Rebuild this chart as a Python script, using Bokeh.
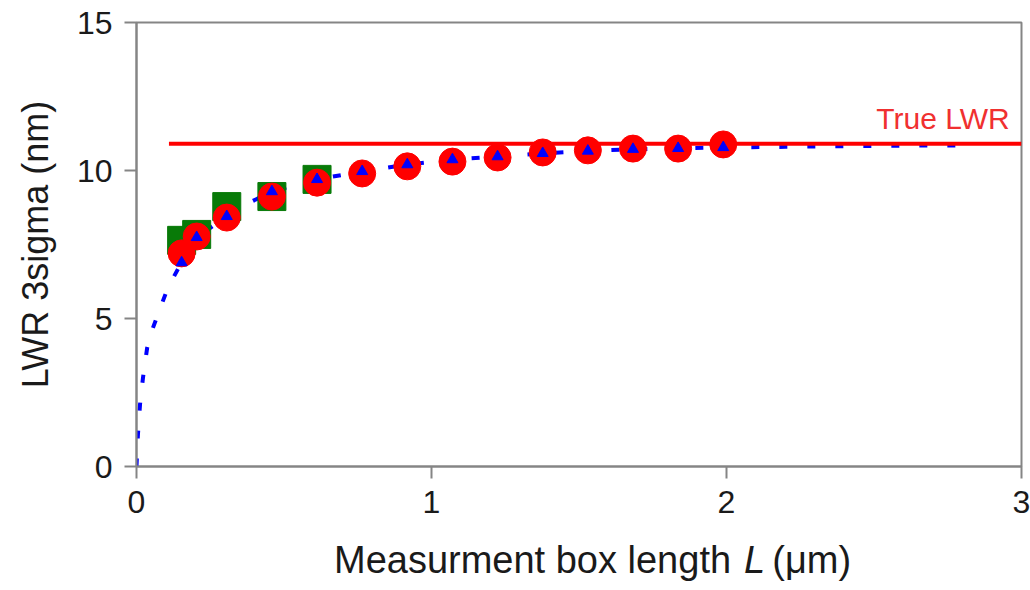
from bokeh.plotting import figure
from bokeh.models import Range1d, Label, FixedTicker
from bokeh.layouts import column
from bokeh.core.properties import value
from bokeh.embed import file_html
from bokeh.resources import INLINE

# ---- data ----
box_length = [0.153, 0.204, 0.306, 0.459, 0.612, 0.765, 0.918, 1.071,
              1.224, 1.377, 1.530, 1.683, 1.836, 1.989]
lwr_circle = [7.20, 7.77, 8.41, 9.12, 9.59, 9.90, 10.14, 10.30,
              10.44, 10.61, 10.68, 10.74, 10.74, 10.88]
lwr_triangle = [6.89, 7.74, 8.45, 9.29, 9.70, 9.97, 10.20, 10.37,
                10.47, 10.58, 10.66, 10.72, 10.75, 10.78]
sq_length = [0.153, 0.204, 0.306, 0.459, 0.612]
lwr_square = [7.64, 7.84, 8.78, 9.12, 9.70]
fit_length = [0.0, 0.005, 0.012, 0.022, 0.036, 0.049, 0.086, 0.107, 0.153,
              0.204, 0.306, 0.38, 0.459, 0.612, 0.765, 0.918, 1.071, 1.224,
              1.377, 1.53, 1.683, 1.836, 1.989, 2.2, 2.4, 2.6, 2.8]
fit_lwr = [0.0, 1.1, 2.1, 3.0, 4.0, 4.5, 5.5, 6.05, 6.9,
           7.74, 8.45, 8.9, 9.29, 9.7, 9.97, 10.2, 10.37, 10.47,
           10.58, 10.66, 10.72, 10.75, 10.78, 10.8, 10.82, 10.84, 10.85]
true_lwr_x = [0.11, 3.0]
true_lwr_y = [10.9, 10.9]
x_ticks = [0, 1, 2, 3]
y_ticks = [0, 5, 10, 15]
x_label_parts = ["Measurment box length", "L", "(\u03bcm)"]

FONT = "Liberation Sans"
TXT = "#1a1a1a"

p = figure(width=1030, height=530, output_backend="svg", toolbar_location=None,
           x_range=Range1d(0, 3), y_range=Range1d(0, 15),
           min_border_left=136, min_border_right=9, min_border_top=22,
           min_border_bottom=64)
p.grid.visible = False
p.background_fill_color = "white"
p.border_fill_color = "white"
p.outline_line_color = "#858585"
p.outline_line_width = 2

for ax in (p.xaxis[0], p.yaxis[0]):
    ax.axis_line_color = "#858585"
    ax.axis_line_width = 2
    ax.major_tick_line_color = "#858585"
    ax.major_tick_line_width = 2
    ax.major_tick_out = 12
    ax.major_tick_in = 0
    ax.minor_tick_line_color = None
    ax.major_label_text_font = FONT
    ax.major_label_text_font_size = "32px"
    ax.major_label_text_color = TXT

p.xaxis.ticker = FixedTicker(ticks=x_ticks)
p.yaxis.ticker = FixedTicker(ticks=y_ticks)
p.xaxis.major_label_standoff = 12
p.yaxis.major_label_standoff = 12

p.yaxis.axis_label = "LWR 3sigma (nm)"
p.yaxis.axis_label_text_font = FONT
p.yaxis.axis_label_text_font_size = "36px"
p.yaxis.axis_label_text_font_style = "normal"
p.yaxis.axis_label_text_color = TXT
p.yaxis.axis_label_standoff = 18

# fit curve
p.line(fit_length, fit_lwr, line_color="#0000ff", line_width=4, line_dash="8 20")
# true LWR line
p.line(true_lwr_x, true_lwr_y, line_color="#ff0000", line_width=4)
# markers
p.scatter(sq_length, lwr_square, marker="square", size=28, fill_color="#087a08",
          line_color="#087a08")
p.scatter(box_length, lwr_circle, marker="circle", size=27, fill_color="#ff0000",
          line_color="#ff0000")
p.scatter(box_length, lwr_triangle, marker="triangle", size=11, fill_color="#0000ff",
          line_color="#0000ff")

p.add_layout(Label(x=2.96, y=11.75, text="True LWR", text_align="right",
                   text_baseline="alphabetic", text_font=FONT,
                   text_font_size="30px", text_color="#f03030"))

# x axis title strip (with italic L), positioned in pixels
q = figure(width=1030, height=60, output_backend="svg", toolbar_location=None,
           x_range=Range1d(0, 1030), y_range=Range1d(0, 60),
           min_border=0, x_axis_type=None, y_axis_type=None)
q.grid.visible = False
q.outline_line_color = None
ty = 31
q.text(x=[692], y=[ty], text=[x_label_parts[0]], text_align="right",
       text_baseline="alphabetic", text_font=value(FONT), text_font_size="38px",
       text_color=TXT)
q.text(x=[707], y=[ty], text=[x_label_parts[1]], text_align="left",
       text_baseline="alphabetic", text_font=value(FONT), text_font_size="38px",
       text_font_style="italic", text_color=TXT)
q.text(x=[740], y=[ty], text=[x_label_parts[2]], text_align="left",
       text_baseline="alphabetic", text_font=value(FONT), text_font_size="38px",
       text_color=TXT)

layout = column(p, q, spacing=0)
open("out.html", "w").write(file_html(layout, INLINE))
